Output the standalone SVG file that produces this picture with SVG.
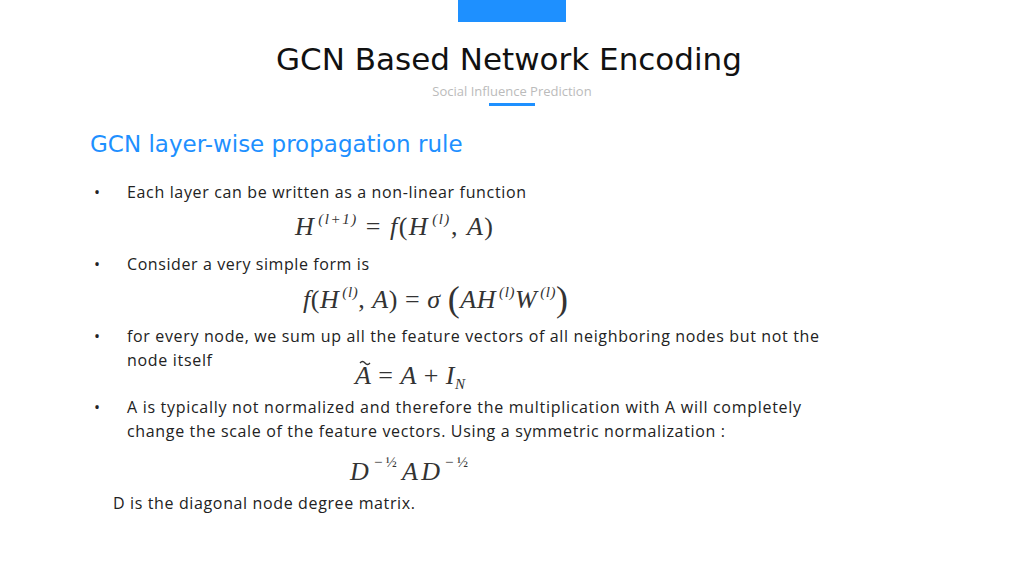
<svg xmlns="http://www.w3.org/2000/svg" width="1024" height="576" viewBox="0 0 1024 576">
<style>
.b{font-family:"Open Sans","Liberation Sans",sans-serif;font-size:16px;fill:#222}
.m{font-family:"Liberation Serif",serif;font-style:italic;font-size:26px;fill:#333}
.s{font-size:15px}
.u{font-style:normal}
</style>
<rect width="1024" height="576" fill="#fff"/>
<rect x="458" y="0" width="108" height="22" fill="#1e90ff"/>
<text x="509" y="70" text-anchor="middle" font-family="'DejaVu Sans',sans-serif" font-size="31" fill="#111">GCN Based Network Encoding</text>
<text x="512" y="96" text-anchor="middle" font-family="'Open Sans','Liberation Sans',sans-serif" font-size="13" fill="#bbb">Social Influence Prediction</text>
<rect x="489" y="103" width="46" height="3" fill="#1e90ff"/>
<text x="90" y="152" font-family="'DejaVu Sans',sans-serif" font-size="23" fill="#1e90ff">GCN layer-wise propagation rule</text>
<g class="b">
<text x="94" y="198">•</text><text x="127" y="198" textLength="399">Each layer can be written as a non-linear function</text>
<text x="94" y="270">•</text><text x="127" y="270" textLength="242">Consider a very simple form is</text>
<text x="94" y="342">•</text><text x="127" y="342" textLength="692">for every node, we sum up all the feature vectors of all neighboring nodes but not the</text>
<text x="127" y="366" textLength="85">node itself</text>
<text x="94" y="413">•</text><text x="127" y="413" textLength="674">A is typically not normalized and therefore the multiplication with A will completely</text>
<text x="127" y="437" textLength="598">change the scale of the feature vectors. Using a symmetric normalization :</text>
<text x="113" y="509" textLength="302">D is the diagonal node degree matrix.</text>
</g>
<g class="m">
<text x="295" y="235" textLength="198">H<tspan class="s" dx="3" dy="-11">(l+1)</tspan><tspan class="u" dy="11"> = </tspan>f<tspan class="u">(</tspan>H<tspan class="s" dx="3" dy="-11">(l)</tspan><tspan class="u" dy="11">, </tspan>A<tspan class="u">)</tspan></text>
<text x="303" y="308" textLength="265">f<tspan class="u">(</tspan>H<tspan class="s" dx="3" dy="-11">(l)</tspan><tspan class="u" dy="11">, </tspan>A<tspan class="u">) = </tspan>σ <tspan class="u" font-size="36" dy="3">(</tspan><tspan dy="-3">AH</tspan><tspan class="s" dx="3" dy="-11">(l)</tspan><tspan dy="11">W</tspan><tspan class="s" dx="3" dy="-11">(l)</tspan><tspan class="u" font-size="36" dy="14">)</tspan></text>
<text x="355" y="384" textLength="110">A<tspan class="u"> = </tspan>A<tspan class="u"> + </tspan>I<tspan class="s" dy="5">N</tspan></text>
<text x="350" y="480" textLength="118">D<tspan class="s u" dx="2" dy="-13">−½</tspan><tspan dx="2" dy="13">AD</tspan><tspan class="s u" dx="2" dy="-13">−½</tspan></text>
</g>
<path d="M360 363q2.5-3 5 0t5 0" fill="none" stroke="#333" stroke-width="1.3"/>
</svg>
